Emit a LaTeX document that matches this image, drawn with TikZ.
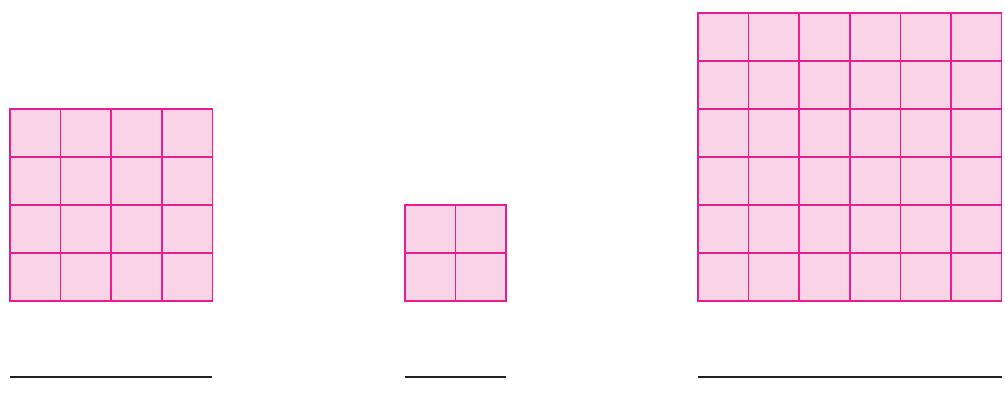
\documentclass[tikz,border=0pt]{standalone}
\usepackage{xcolor}
\usepackage{tikz}

\definecolor{cellpink}{HTML}{F9D4E6}
\definecolor{cellmag}{HTML}{EC1C8E}
\definecolor{rulegray}{HTML}{222222}

\begin{document}
\begin{tikzpicture}[
  x=1pt, y=-1pt,
  cell/.style={fill=cellpink, draw=cellmag, line width=1.5pt},
  answer/.style={draw=rulegray, line width=1.4pt},
]
  \useasboundingbox (0,0) rectangle (1005,392);

  % square grids of 4x4, 2x2 and 6x6 cells, with an answer line below each
  \foreach \gx/\gy/\n in {10/109/4, 405/205/2, 698/13/6} {
    \foreach \i in {1,...,\n}
      \foreach \j in {1,...,\n}
        \draw[cell] ({\gx+(\i-1)*50.6},{\gy+(\j-1)*48}) rectangle +(50.6,48);
    \draw[answer] (\gx,377) -- +({\n*50.6},0);
  }
\end{tikzpicture}
\end{document}
